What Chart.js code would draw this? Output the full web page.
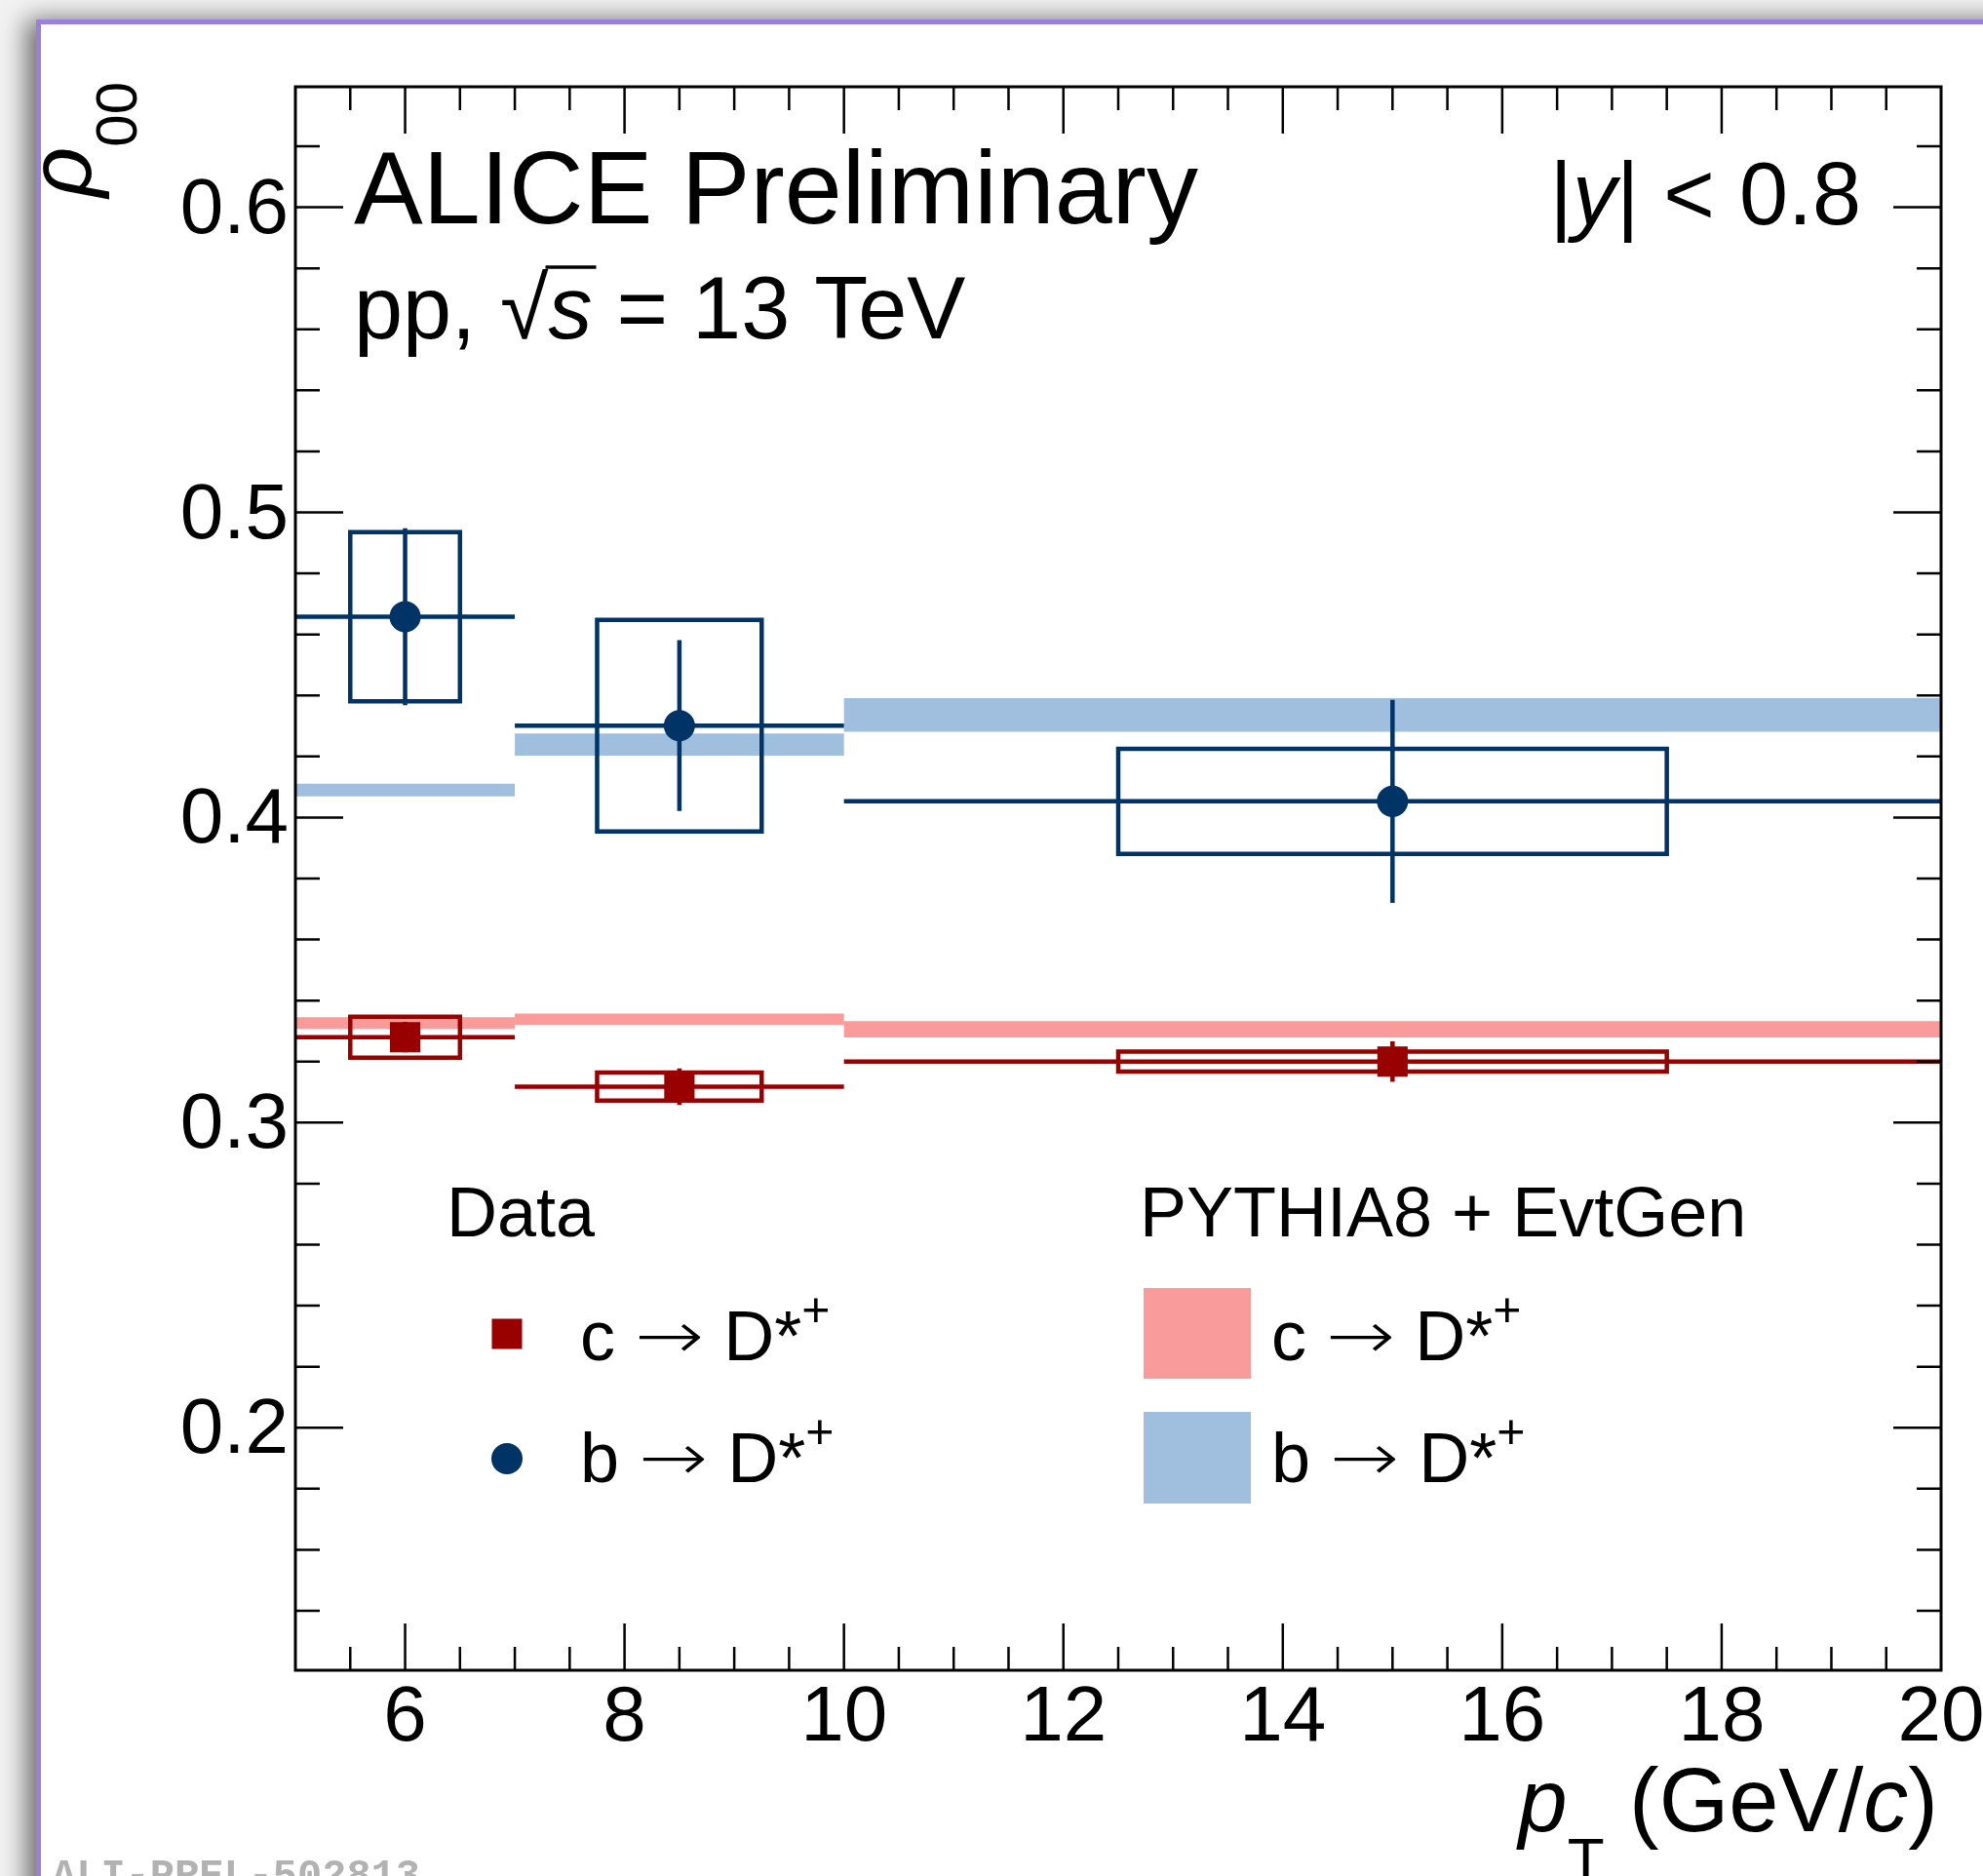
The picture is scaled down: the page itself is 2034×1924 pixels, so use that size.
<!DOCTYPE html>
<html>
<head>
<meta charset="utf-8">
<title>rho00 vs pT</title>
<script src="https://cdn.jsdelivr.net/npm/chart.js@4.4.1/dist/chart.umd.min.js"></script>
<style>
  html, body { margin: 0; padding: 0; }
  body { width: 2034px; height: 1924px; overflow: hidden; position: relative; background: #f2f2f2; }
  #card {
    position: absolute; left: 37px; top: 20px; width: 2100px; height: 2000px;
    background: #fff; border-left: 5px solid #9b7fe0; border-top: 5px solid #9b7fe0;
    box-shadow: -10px 0 24px rgba(0, 0, 0, 0.55);
  }
  #wrap { position: absolute; left: 0; top: 0; width: 2034px; height: 1924px; }
</style>
</head>
<body>
<div id="card"></div>
<div id="wrap"><canvas id="rhoChart" width="2034" height="1924"></canvas></div>
<script>
// bins in pT (GeV/c)
const binLow = [5, 7, 10];
const binHigh = [7, 10, 20];
const ptCenter = [6, 8.5, 15];
const sysHalfWidth = [0.5, 0.75, 2.5];

// data, c -> D*+
const cVal = [0.328, 0.3118, 0.3200];
const cStat = [0.005, 0.006, 0.0066];
const cSys = [0.0067, 0.0046, 0.0033];

// data, b -> D*+
const bVal = [0.4658, 0.4301, 0.4053];
const bStat = [0.0290, 0.0280, 0.0333];
const bSys = [0.0277, 0.0347, 0.0172];

// PYTHIA8 + EvtGen
const pyC = [0.3326, 0.3339, 0.3306];
const pyCErr = [0.0019, 0.0018, 0.0027];
const pyB = [0.4090, 0.4239, 0.4336];
const pyBErr = [0.0021, 0.0036, 0.0055];

const xTickVals = [6, 8, 10, 12, 14, 16, 18, 20];
const yTickVals = [0.2, 0.3, 0.4, 0.5, 0.6];

const RED = '#990000';
const BLUE = '#003366';
const PINK = '#f99b9b';
const LBLUE = '#a0bfdf';
const FONT = '"Liberation Sans", Arial, Helvetica, sans-serif';

const gap = () => ({x: null, y: null});

function bandShape(val, err) {
    const pts = [];
    val.forEach((v, i) => {
        pts.push({x: binLow[i], y: v - err[i]}, {x: binHigh[i], y: v - err[i]},
                 {x: binHigh[i], y: v + err[i]}, {x: binLow[i], y: v + err[i]}, gap());
    });
    return pts;
}

function sysBoxes(val, sys) {
    const pts = [];
    val.forEach((v, i) => {
        const x0 = ptCenter[i] - sysHalfWidth[i], x1 = ptCenter[i] + sysHalfWidth[i];
        pts.push({x: x0, y: v - sys[i]}, {x: x1, y: v - sys[i]}, {x: x1, y: v + sys[i]},
                 {x: x0, y: v + sys[i]}, {x: x0, y: v - sys[i]}, gap());
    });
    return pts;
}

function binLines(val) {
    const pts = [];
    val.forEach((v, i) => pts.push({x: binLow[i], y: v}, {x: binHigh[i], y: v}, gap()));
    return pts;
}

function statBars(val, err) {
    const pts = [];
    val.forEach((v, i) => pts.push({x: ptCenter[i], y: v - err[i]}, {x: ptCenter[i], y: v + err[i]}, gap()));
    return pts;
}

const centres = val => val.map((v, i) => ({x: ptCenter[i], y: v}));

const lineDs = (data, color, extra) => Object.assign({
    data: data, borderColor: color, borderWidth: 4.5, pointRadius: 0, fill: false,
    spanGaps: false, tension: 0, borderCapStyle: 'butt', borderJoinStyle: 'miter'
}, extra || {});

// rich text: list of runs {t, size, italic, dy, fam, sx, weight}
const fontOf = r => (r.italic ? 'italic ' : '') + (r.weight ? r.weight + ' ' : '') + r.size + 'px ' + (r.fam || FONT);
function runWidth(ctx, r) {
    ctx.font = fontOf(r);
    return ctx.measureText(r.t).width * (r.sx || 1);
}
function drawRuns(ctx, x, y, runs, align) {
    let total = 0;
    runs.forEach(r => { total += runWidth(ctx, r); });
    let cx = align === 'right' ? x - total : x;
    runs.forEach(r => {
        const w = runWidth(ctx, r);
        ctx.save();
        ctx.translate(cx, y + (r.dy || 0));
        ctx.scale(r.sx || 1, 1);
        ctx.fillText(r.t, 0, 0);
        ctx.restore();
        r.x0 = cx;
        cx += w;
        r.x1 = cx;
    });
}
const dstar = (q, size) => [
    {t: q + ' ', size: size},
    {t: '\u2192', size: Math.round(size * 0.95), fam: '"DejaVu Sans", sans-serif', weight: 200, sx: 1.25, dy: -2},
    {t: ' D*', size: size},
    {t: '+', size: Math.round(size * 0.7), dy: -Math.round(size * 0.48)}
];

const decorations = {
    id: 'decorations',
    afterDraw(chart) {
        const {ctx, chartArea: a, scales: {x, y}} = chart;
        ctx.save();
        ctx.strokeStyle = '#000';
        ctx.fillStyle = '#000';

        // inward ticks on all four sides
        ctx.lineWidth = 2.5;
        ctx.beginPath();
        for (let k = 11; k <= 39; k++) {
            const px = x.getPixelForValue(k / 2);
            const len = k % 4 === 0 ? 48 : 24;
            ctx.moveTo(px, a.bottom); ctx.lineTo(px, a.bottom - len);
            ctx.moveTo(px, a.top); ctx.lineTo(px, a.top + len);
        }
        for (let k = 14; k <= 62; k += 2) {
            const py = y.getPixelForValue(k / 100);
            const len = k % 10 === 0 ? 49 : 25;
            ctx.moveTo(a.left, py); ctx.lineTo(a.left + len, py);
            ctx.moveTo(a.right, py); ctx.lineTo(a.right - len, py);
        }
        ctx.stroke();
        ctx.lineWidth = 3;
        ctx.strokeRect(a.left, a.top, a.right - a.left, a.bottom - a.top);

        ctx.textBaseline = 'alphabetic';
        ctx.textAlign = 'left';

        // labels in the frame
        drawRuns(ctx, 363, 229, [{t: 'ALICE Preliminary', size: 106}]);
        const pp = [{t: 'pp, ', size: 90}, {t: '\u221A', size: 90}, {t: 's', size: 90, italic: true},
                    {t: ' = 13 TeV', size: 90}];
        drawRuns(ctx, 363, 347, pp);
        ctx.lineWidth = 3.5;
        ctx.beginPath();
        ctx.moveTo(pp[1].x1 - 3, 274); ctx.lineTo(pp[2].x1 + 4, 274);
        ctx.stroke();
        drawRuns(ctx, 1909, 230, [{t: '|', size: 90}, {t: 'y', size: 90, italic: true},
                                  {t: '| < 0.8', size: 90}], 'right');

        // axis titles
        drawRuns(ctx, 1988, 1878, [{t: 'p', size: 90, italic: true}, {t: 'T', size: 62, dy: 50},
                                   {t: ' (GeV/', size: 92}, {t: 'c', size: 92, italic: true},
                                   {t: ')', size: 92}], 'right');
        ctx.save();
        ctx.translate(93, 84);
        ctx.rotate(-Math.PI / 2);
        drawRuns(ctx, 0, 0, [{t: '\u03C1', size: 90, italic: true}, {t: '00', size: 60, dy: 47}], 'right');
        ctx.restore();

        // legend: data
        drawRuns(ctx, 458, 1268, [{t: 'Data', size: 72}]);
        ctx.fillStyle = RED;
        ctx.fillRect(520 - 15.5, 1368 - 15.5, 31, 31);
        ctx.fillStyle = BLUE;
        ctx.beginPath(); ctx.arc(520, 1496, 16, 0, Math.PI * 2); ctx.fill();
        ctx.fillStyle = '#000';
        drawRuns(ctx, 595, 1395, dstar('c', 72));
        drawRuns(ctx, 595, 1520, dstar('b', 72));

        // legend: model
        drawRuns(ctx, 1169, 1268, [{t: 'PYTHIA8 + EvtGen', size: 72}]);
        ctx.fillStyle = PINK;
        ctx.fillRect(1173, 1321, 110, 93);
        ctx.fillStyle = LBLUE;
        ctx.fillRect(1173, 1448, 110, 94);
        ctx.fillStyle = '#000';
        drawRuns(ctx, 1304, 1395, dstar('c', 72));
        drawRuns(ctx, 1304, 1520, dstar('b', 72));

        // figure id
        ctx.fillStyle = '#b2b2b2';
        ctx.font = 'bold 42px "Liberation Mono", monospace';
        ctx.fillText('ALI-PREL-502813', 53, 1936);
        ctx.restore();
    }
};

document.addEventListener('DOMContentLoaded', () => {
    const ctx = document.getElementById('rhoChart').getContext('2d');
    new Chart(ctx, {
        type: 'line',
        data: {
            datasets: [
                {label: 'c data', data: centres(cVal), showLine: false, pointStyle: 'rect',
                 pointRadius: 22, pointBackgroundColor: RED, pointBorderWidth: 0},
                {label: 'b data', data: centres(bVal), showLine: false, pointStyle: 'circle',
                 pointRadius: 16, pointBackgroundColor: BLUE, pointBorderWidth: 0},
                lineDs(statBars(cVal, cStat), RED),
                lineDs(binLines(cVal), RED),
                lineDs(sysBoxes(cVal, cSys), RED, {borderCapStyle: 'square'}),
                lineDs(statBars(bVal, bStat), BLUE),
                lineDs(binLines(bVal), BLUE),
                lineDs(sysBoxes(bVal, bSys), BLUE, {borderCapStyle: 'square'}),
                {label: 'PYTHIA c', data: bandShape(pyC, pyCErr), borderWidth: 0, pointRadius: 0,
                 backgroundColor: PINK, fill: 'shape', spanGaps: false},
                {label: 'PYTHIA b', data: bandShape(pyB, pyBErr), borderWidth: 0, pointRadius: 0,
                 backgroundColor: LBLUE, fill: 'shape', spanGaps: false}
            ]
        },
        options: {
            responsive: false,
            devicePixelRatio: 1,
            animation: false,
            events: [],
            layout: {padding: {left: 0, top: 89, right: 43, bottom: 111}},
            plugins: {legend: {display: false}, tooltip: {enabled: false}},
            scales: {
                x: {
                    type: 'linear', min: 5, max: 20,
                    afterBuildTicks: s => { s.ticks = xTickVals.map(v => ({value: v})); },
                    afterFit: s => { s.height = 100; s.paddingLeft = 0; s.paddingRight = 0; },
                    ticks: {font: {family: FONT, size: 80}, color: '#000', padding: 2,
                            maxRotation: 0, autoSkip: false, callback: v => String(v)},
                    grid: {display: false, drawTicks: false},
                    border: {display: false}
                },
                y: {
                    type: 'linear', min: 0.1205, max: 0.6395,
                    afterBuildTicks: s => { s.ticks = yTickVals.map(v => ({value: v})); },
                    afterFit: s => { s.width = 303; s.paddingTop = 0; s.paddingBottom = 0; },
                    ticks: {font: {family: FONT, size: 80}, color: '#000', padding: 7,
                            labelOffset: 4, autoSkip: false, callback: v => v.toFixed(1)},
                    grid: {display: false, drawTicks: false},
                    border: {display: false}
                }
            }
        },
        plugins: [decorations]
    });
});
</script>
</body>
</html>
